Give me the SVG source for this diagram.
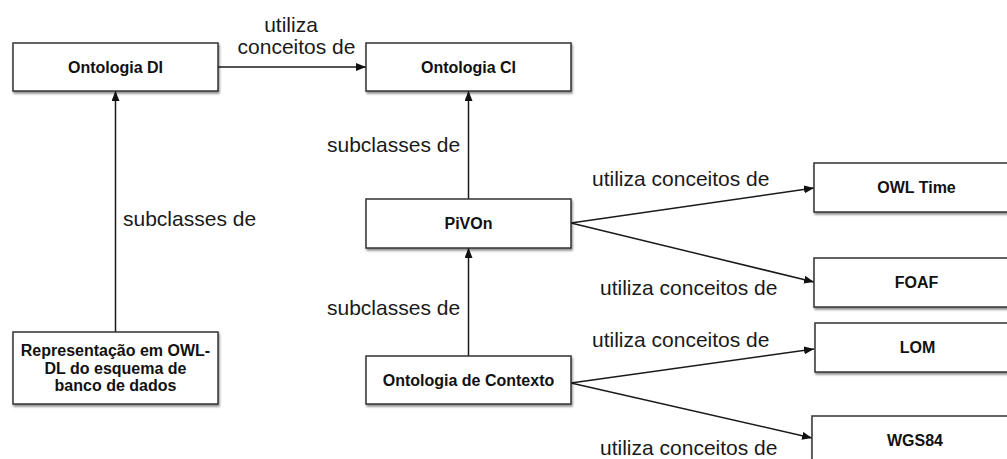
<svg xmlns="http://www.w3.org/2000/svg" width="1007" height="459" viewBox="0 0 1007 459">
  <style>
    .box { fill: #ffffff; stroke: #333333; stroke-width: 1.5; filter: url(#shadow); }
    .name { font-family: "Liberation Sans", Arial, sans-serif; font-size: 16px; font-weight: bold; fill: #111111; text-anchor: middle; }
    .label { font-family: "Liberation Sans", Arial, sans-serif; font-size: 21px; fill: #1a1a1a; }
    .edge { stroke: #1a1a1a; stroke-width: 1.5; fill: none; marker-end: url(#arrow); }
  </style>
  <defs>
    <filter id="shadow" x="-10%" y="-20%" width="125%" height="150%">
      <feGaussianBlur in="SourceAlpha" stdDeviation="1.2"/>
      <feOffset dx="1" dy="2" result="blur"/>
      <feComponentTransfer><feFuncA type="linear" slope="0.45"/></feComponentTransfer>
      <feMerge><feMergeNode/><feMergeNode in="SourceGraphic"/></feMerge>
    </filter>
    <marker id="arrow" viewBox="0 0 10 8" refX="10" refY="4" markerWidth="10" markerHeight="8" markerUnits="userSpaceOnUse" orient="auto">
      <path d="M0,0 L10,4 L0,8 Z" fill="#111111"/>
    </marker>
  </defs>

  <rect width="1007" height="459" fill="#ffffff"/>

  <g id="connectors">
    <line class="edge" x1="218" y1="67" x2="366" y2="67"/>
    <line class="edge" x1="115.5" y1="332" x2="115.5" y2="91"/>
    <line class="edge" x1="468.5" y1="199" x2="468.5" y2="91"/>
    <line class="edge" x1="468.5" y1="356" x2="468.5" y2="248"/>
    <line class="edge" x1="571" y1="223" x2="814" y2="188"/>
    <line class="edge" x1="571" y1="223" x2="814" y2="282"/>
    <line class="edge" x1="571" y1="383" x2="814" y2="349"/>
    <line class="edge" x1="571" y1="383" x2="812" y2="438"/>

    <text class="label" x="291" y="32" text-anchor="middle">utiliza</text>
    <text class="label" x="296.5" y="54" text-anchor="middle">conceitos de</text>
    <text class="label" x="123" y="226">subclasses de</text>
    <text class="label" x="327" y="152">subclasses de</text>
    <text class="label" x="327" y="315">subclasses de</text>
    <text class="label" x="592" y="186">utiliza conceitos de</text>
    <text class="label" x="600" y="295">utiliza conceitos de</text>
    <text class="label" x="592" y="347">utiliza conceitos de</text>
    <text class="label" x="600" y="455">utiliza conceitos de</text>
  </g>

  <g id="ontologia-di">
    <rect class="box" x="13" y="43" width="205" height="48"/>
    <text class="name" x="115.5" y="72.5">Ontologia DI</text>
  </g>

  <g id="ontologia-ci">
    <rect class="box" x="366" y="43" width="205" height="48"/>
    <text class="name" x="468.5" y="72.5">Ontologia CI</text>
  </g>

  <g id="representacao">
    <rect class="box" x="13" y="332" width="205" height="72"/>
    <text class="name" x="115.5" y="356">Representação em OWL-</text>
    <text class="name" x="115.5" y="373.5">DL do esquema de</text>
    <text class="name" x="115.5" y="391">banco de dados</text>
  </g>

  <g id="pivon">
    <rect class="box" x="366" y="199" width="205" height="49"/>
    <text class="name" x="468.5" y="229">PiVOn</text>
  </g>

  <g id="ontologia-contexto">
    <rect class="box" x="366" y="356" width="205" height="48"/>
    <text class="name" x="468.5" y="385.5">Ontologia de Contexto</text>
  </g>

  <g id="owl-time">
    <rect class="box" x="814" y="163" width="205" height="49"/>
    <text class="name" x="916.5" y="193">OWL Time</text>
  </g>

  <g id="foaf">
    <rect class="box" x="814" y="258" width="205" height="49"/>
    <text class="name" x="916.5" y="288">FOAF</text>
  </g>

  <g id="lom">
    <rect class="box" x="815" y="323" width="205" height="49"/>
    <text class="name" x="917.5" y="353">LOM</text>
  </g>

  <g id="wgs84">
    <rect class="box" x="812" y="416" width="205" height="49"/>
    <text class="name" x="915" y="446">WGS84</text>
  </g>
</svg>
